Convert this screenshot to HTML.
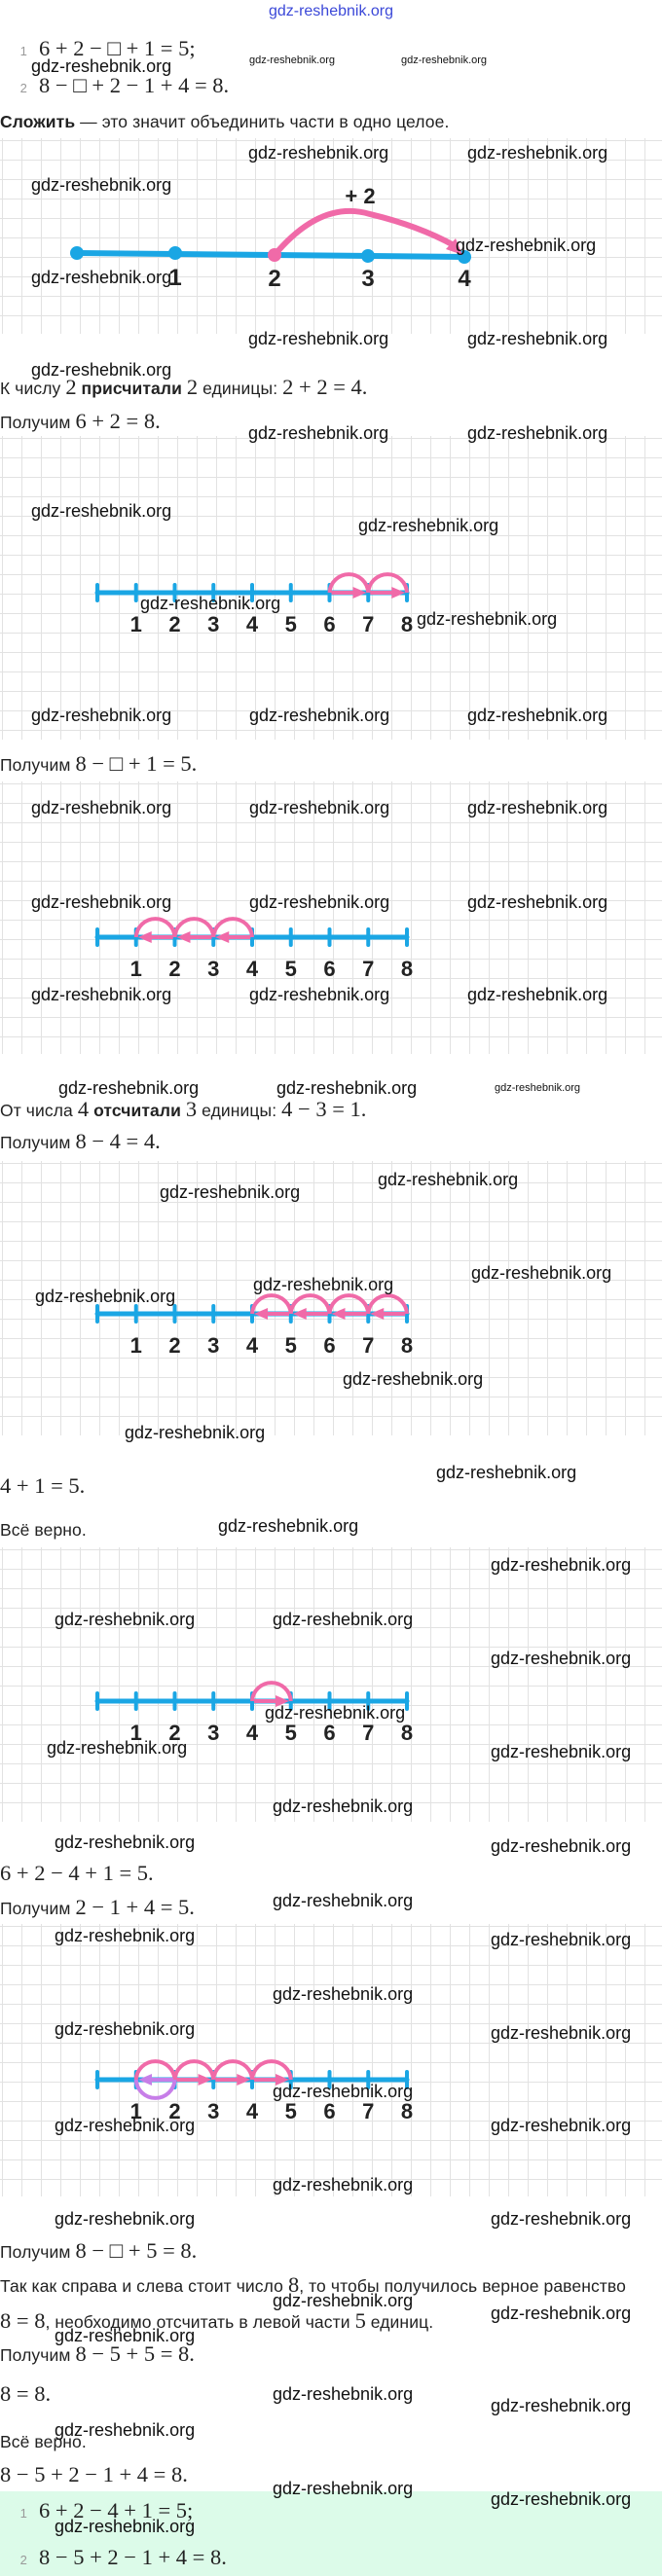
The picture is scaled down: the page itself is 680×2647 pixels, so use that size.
<!DOCTYPE html>
<html><head><meta charset="utf-8"><style>
*{margin:0;padding:0}
body{width:680px;height:2647px;position:relative;background:#fff;overflow:hidden;font-family:"Liberation Sans",sans-serif;color:#222}
.g{position:absolute;left:0;width:680px;background-color:#fff;background-image:linear-gradient(to right,#e2e2e2 1px,transparent 1px),linear-gradient(to bottom,#e2e2e2 1px,transparent 1px);background-size:20px 20px;background-position:2px 2px}
.t{position:absolute;left:0;height:26px;line-height:26px;font-size:17.5px;white-space:nowrap;letter-spacing:0.1px}
.m{font-family:"Liberation Serif",serif;font-size:22.5px;letter-spacing:0}
.n{font-size:13px;color:#999;display:inline-block;width:22px;text-align:right;padding-right:12px}
.w{position:absolute;font-size:18px;height:22px;line-height:22px;color:#111;white-space:nowrap}
.s{font-size:11px}
svg{position:absolute;left:0;top:0}
</style></head><body>
<div class="g" style="top:142px;height:201px"></div>
<div class="g" style="top:448px;height:312px"></div>
<div class="g" style="top:803px;height:280px"></div>
<div class="g" style="top:1193px;height:282px"></div>
<div class="g" style="top:1590px;height:282px"></div>
<div class="g" style="top:1977px;height:280px"></div>
<div style="position:absolute;left:0;top:2560px;width:680px;height:87px;background:#dcfbe9"></div>

<div class="w" style="left:0;width:680px;text-align:center;top:1px;color:#3b48d8;font-size:16px">gdz-reshebnik.org</div>

<div class="t" style="top:37px;left:6px"><span class="n">1</span><span class="m">6 + 2 − □ + 1 = 5;</span></div>
<div class="t" style="top:75px;left:6px"><span class="n">2</span><span class="m">8 − □ + 2 − 1 + 4 = 8.</span></div>
<div class="t" style="top:112px"><b>Сложить</b> — это значит объединить части в одно целое.</div>
<div class="t" style="top:385px">К числу <span class="m">2</span> <b>присчитали</b> <span class="m">2</span> единицы: <span class="m">2 + 2 = 4.</span></div>
<div class="t" style="top:420px">Получим <span class="m">6 + 2 = 8.</span></div>
<div class="t" style="top:772px">Получим <span class="m">8 − □ + 1 = 5.</span></div>
<div class="t" style="top:1127px">От числа <span class="m">4</span> <b>отсчитали</b> <span class="m">3</span> единицы: <span class="m">4 − 3 = 1.</span></div>
<div class="t" style="top:1160px">Получим <span class="m">8 − 4 = 4.</span></div>
<div class="t" style="top:1514px"><span class="m">4 + 1 = 5.</span></div>
<div class="t" style="top:1559px">Всё верно.</div>
<div class="t" style="top:1912px"><span class="m">6 + 2 − 4 + 1 = 5.</span></div>
<div class="t" style="top:1947px">Получим <span class="m">2 − 1 + 4 = 5.</span></div>
<div class="t" style="top:2300px">Получим <span class="m">8 − □ + 5 = 8.</span></div>
<div class="t" style="top:2335px">Так как справа и слева стоит число <span class="m">8</span>, то чтобы получилось верное равенство</div>
<div class="t" style="top:2372px"><span class="m">8 = 8</span>, необходимо отсчитать в левой части <span class="m">5</span> единиц.</div>
<div class="t" style="top:2406px">Получим <span class="m">8 − 5 + 5 = 8.</span></div>
<div class="t" style="top:2447px"><span class="m">8 = 8.</span></div>
<div class="t" style="top:2496px">Всё верно.</div>
<div class="t" style="top:2530px"><span class="m">8 − 5 + 2 − 1 + 4 = 8.</span></div>
<div class="t" style="top:2567px;left:6px"><span class="n">1</span><span class="m">6 + 2 − 4 + 1 = 5;</span></div>
<div class="t" style="top:2615px;left:6px"><span class="n">2</span><span class="m">8 − 5 + 2 − 1 + 4 = 8.</span></div>

<svg width="680" height="2647" viewBox="0 0 680 2647">
<defs>
<g id="nl" stroke="#1aa6e4" stroke-width="4" stroke-linecap="round">
<line x1="100" y1="0" x2="418" y2="0" stroke-width="5"/>
<line x1="100" y1="-8" x2="100" y2="8"/><line x1="139.75" y1="-8" x2="139.75" y2="8"/><line x1="179.5" y1="-8" x2="179.5" y2="8"/><line x1="219.25" y1="-8" x2="219.25" y2="8"/><line x1="259" y1="-8" x2="259" y2="8"/><line x1="298.75" y1="-8" x2="298.75" y2="8"/><line x1="338.5" y1="-8" x2="338.5" y2="8"/><line x1="378.25" y1="-8" x2="378.25" y2="8"/><line x1="418" y1="-8" x2="418" y2="8"/>
</g>
<g id="lb" font-family="Liberation Sans,sans-serif" font-weight="bold" font-size="22" fill="#222" text-anchor="middle">
<text x="139.75" y="40">1</text><text x="179.5" y="40">2</text><text x="219.25" y="40">3</text><text x="259" y="40">4</text><text x="298.75" y="40">5</text><text x="338.5" y="40">6</text><text x="378.25" y="40">7</text><text x="418" y="40">8</text>
</g>
<path id="arc" d="M0,0 A19.9,19.9 0 0 1 39.75,0" fill="none" stroke="#f06aa8" stroke-width="4"/>
<g id="ar"><line x1="2" y1="0" x2="28" y2="0" stroke="#f06aa8" stroke-width="4"/><polygon points="38,0 24,-6 24,6" fill="#f06aa8"/></g>
<g id="al"><line x1="12" y1="0" x2="38" y2="0" stroke="#f06aa8" stroke-width="4"/><polygon points="2,0 16,-6 16,6" fill="#f06aa8"/></g>
</defs>

<line x1="79" y1="260" x2="477" y2="264" stroke="#1aa6e4" stroke-width="6"/>
<circle cx="79" cy="260" r="7" fill="#1aa6e4"/><circle cx="180" cy="260" r="7" fill="#1aa6e4"/><circle cx="378" cy="263" r="7" fill="#1aa6e4"/><circle cx="477" cy="264" r="7" fill="#1aa6e4"/>
<path d="M282,262 Q330,205 380,220 Q430,232 466,252" fill="none" stroke="#f06aa8" stroke-width="6"/>
<polygon points="475,262 458,256 468,245" fill="#f06aa8"/>
<circle cx="282" cy="262" r="7" fill="#f06aa8"/>
<g font-family="Liberation Sans,sans-serif" font-weight="bold" font-size="24" fill="#222" text-anchor="middle">
<text x="180" y="293">1</text><text x="282" y="294">2</text><text x="378" y="294">3</text><text x="477" y="294">4</text><text x="370" y="209" font-size="22">+ 2</text></g>

<g transform="translate(0,609)"><use href="#nl"/><use href="#lb"/>
<use href="#arc" x="338.5"/><use href="#arc" x="378.25"/><use href="#ar" x="338.5"/><use href="#ar" x="378.25"/></g>
<g transform="translate(0,963)"><use href="#nl"/><use href="#lb"/>
<use href="#arc" x="139.75"/><use href="#arc" x="179.5"/><use href="#arc" x="219.25"/><use href="#al" x="139.75"/><use href="#al" x="179.5"/><use href="#al" x="219.25"/></g>
<g transform="translate(0,1350)"><use href="#nl"/><use href="#lb"/>
<use href="#arc" x="259"/><use href="#arc" x="298.75"/><use href="#arc" x="338.5"/><use href="#arc" x="378.25"/><use href="#al" x="259"/><use href="#al" x="298.75"/><use href="#al" x="338.5"/><use href="#al" x="378.25"/></g>
<g transform="translate(0,1748)"><use href="#nl"/><use href="#lb"/>
<use href="#arc" x="259"/><use href="#ar" x="259"/></g>
<g transform="translate(0,2137)"><use href="#nl"/><use href="#lb"/>
<use href="#arc" x="139.75"/><use href="#arc" x="179.5"/><use href="#arc" x="219.25"/><use href="#arc" x="259"/>
<path d="M139.75,0 A19.9,19.9 0 0 0 179.5,0" fill="none" stroke="#c77ee8" stroke-width="4"/>
<line x1="152" y1="0" x2="178" y2="0" stroke="#c77ee8" stroke-width="4"/><polygon points="142,0 156,-6 156,6" fill="#c77ee8"/>
<use href="#ar" x="179.5"/><use href="#ar" x="219.25"/><use href="#ar" x="259"/></g>
</svg>

<div class="w s" style="left:256px;top:51px">gdz-reshebnik.org</div>
<div class="w s" style="left:412px;top:51px">gdz-reshebnik.org</div>
<div class="w s" style="left:508px;top:1107px">gdz-reshebnik.org</div>
<div class="w" style="left:32px;top:57px">gdz-reshebnik.org</div>
<div class="w" style="left:32px;top:179px">gdz-reshebnik.org</div>
<div class="w" style="left:255px;top:146px">gdz-reshebnik.org</div>
<div class="w" style="left:480px;top:146px">gdz-reshebnik.org</div>
<div class="w" style="left:32px;top:274px">gdz-reshebnik.org</div>
<div class="w" style="left:468px;top:241px">gdz-reshebnik.org</div>
<div class="w" style="left:255px;top:337px">gdz-reshebnik.org</div>
<div class="w" style="left:480px;top:337px">gdz-reshebnik.org</div>
<div class="w" style="left:32px;top:369px">gdz-reshebnik.org</div>
<div class="w" style="left:255px;top:434px">gdz-reshebnik.org</div>
<div class="w" style="left:480px;top:434px">gdz-reshebnik.org</div>
<div class="w" style="left:32px;top:514px">gdz-reshebnik.org</div>
<div class="w" style="left:368px;top:529px">gdz-reshebnik.org</div>
<div class="w" style="left:144px;top:609px">gdz-reshebnik.org</div>
<div class="w" style="left:428px;top:625px">gdz-reshebnik.org</div>
<div class="w" style="left:32px;top:724px">gdz-reshebnik.org</div>
<div class="w" style="left:256px;top:724px">gdz-reshebnik.org</div>
<div class="w" style="left:480px;top:724px">gdz-reshebnik.org</div>
<div class="w" style="left:32px;top:819px">gdz-reshebnik.org</div>
<div class="w" style="left:256px;top:819px">gdz-reshebnik.org</div>
<div class="w" style="left:480px;top:819px">gdz-reshebnik.org</div>
<div class="w" style="left:32px;top:916px">gdz-reshebnik.org</div>
<div class="w" style="left:256px;top:916px">gdz-reshebnik.org</div>
<div class="w" style="left:480px;top:916px">gdz-reshebnik.org</div>
<div class="w" style="left:32px;top:1011px">gdz-reshebnik.org</div>
<div class="w" style="left:256px;top:1011px">gdz-reshebnik.org</div>
<div class="w" style="left:480px;top:1011px">gdz-reshebnik.org</div>
<div class="w" style="left:60px;top:1107px">gdz-reshebnik.org</div>
<div class="w" style="left:284px;top:1107px">gdz-reshebnik.org</div>
<div class="w" style="left:164px;top:1214px">gdz-reshebnik.org</div>
<div class="w" style="left:388px;top:1201px">gdz-reshebnik.org</div>
<div class="w" style="left:484px;top:1297px">gdz-reshebnik.org</div>
<div class="w" style="left:36px;top:1321px">gdz-reshebnik.org</div>
<div class="w" style="left:260px;top:1309px">gdz-reshebnik.org</div>
<div class="w" style="left:352px;top:1406px">gdz-reshebnik.org</div>
<div class="w" style="left:128px;top:1461px">gdz-reshebnik.org</div>
<div class="w" style="left:448px;top:1502px">gdz-reshebnik.org</div>
<div class="w" style="left:224px;top:1557px">gdz-reshebnik.org</div>
<div class="w" style="left:504px;top:1597px">gdz-reshebnik.org</div>
<div class="w" style="left:56px;top:1653px">gdz-reshebnik.org</div>
<div class="w" style="left:280px;top:1653px">gdz-reshebnik.org</div>
<div class="w" style="left:504px;top:1693px">gdz-reshebnik.org</div>
<div class="w" style="left:272px;top:1749px">gdz-reshebnik.org</div>
<div class="w" style="left:48px;top:1785px">gdz-reshebnik.org</div>
<div class="w" style="left:504px;top:1789px">gdz-reshebnik.org</div>
<div class="w" style="left:280px;top:1845px">gdz-reshebnik.org</div>
<div class="w" style="left:56px;top:1882px">gdz-reshebnik.org</div>
<div class="w" style="left:504px;top:1886px">gdz-reshebnik.org</div>
<div class="w" style="left:280px;top:1942px">gdz-reshebnik.org</div>
<div class="w" style="left:56px;top:1978px">gdz-reshebnik.org</div>
<div class="w" style="left:504px;top:1982px">gdz-reshebnik.org</div>
<div class="w" style="left:280px;top:2038px">gdz-reshebnik.org</div>
<div class="w" style="left:56px;top:2074px">gdz-reshebnik.org</div>
<div class="w" style="left:504px;top:2078px">gdz-reshebnik.org</div>
<div class="w" style="left:280px;top:2138px">gdz-reshebnik.org</div>
<div class="w" style="left:56px;top:2173px">gdz-reshebnik.org</div>
<div class="w" style="left:504px;top:2173px">gdz-reshebnik.org</div>
<div class="w" style="left:280px;top:2234px">gdz-reshebnik.org</div>
<div class="w" style="left:56px;top:2269px">gdz-reshebnik.org</div>
<div class="w" style="left:504px;top:2269px">gdz-reshebnik.org</div>
<div class="w" style="left:280px;top:2353px">gdz-reshebnik.org</div>
<div class="w" style="left:504px;top:2366px">gdz-reshebnik.org</div>
<div class="w" style="left:56px;top:2389px">gdz-reshebnik.org</div>
<div class="w" style="left:280px;top:2449px">gdz-reshebnik.org</div>
<div class="w" style="left:504px;top:2461px">gdz-reshebnik.org</div>
<div class="w" style="left:56px;top:2486px">gdz-reshebnik.org</div>
<div class="w" style="left:280px;top:2546px">gdz-reshebnik.org</div>
<div class="w" style="left:504px;top:2557px">gdz-reshebnik.org</div>
<div class="w" style="left:56px;top:2585px">gdz-reshebnik.org</div>
</body></html>
